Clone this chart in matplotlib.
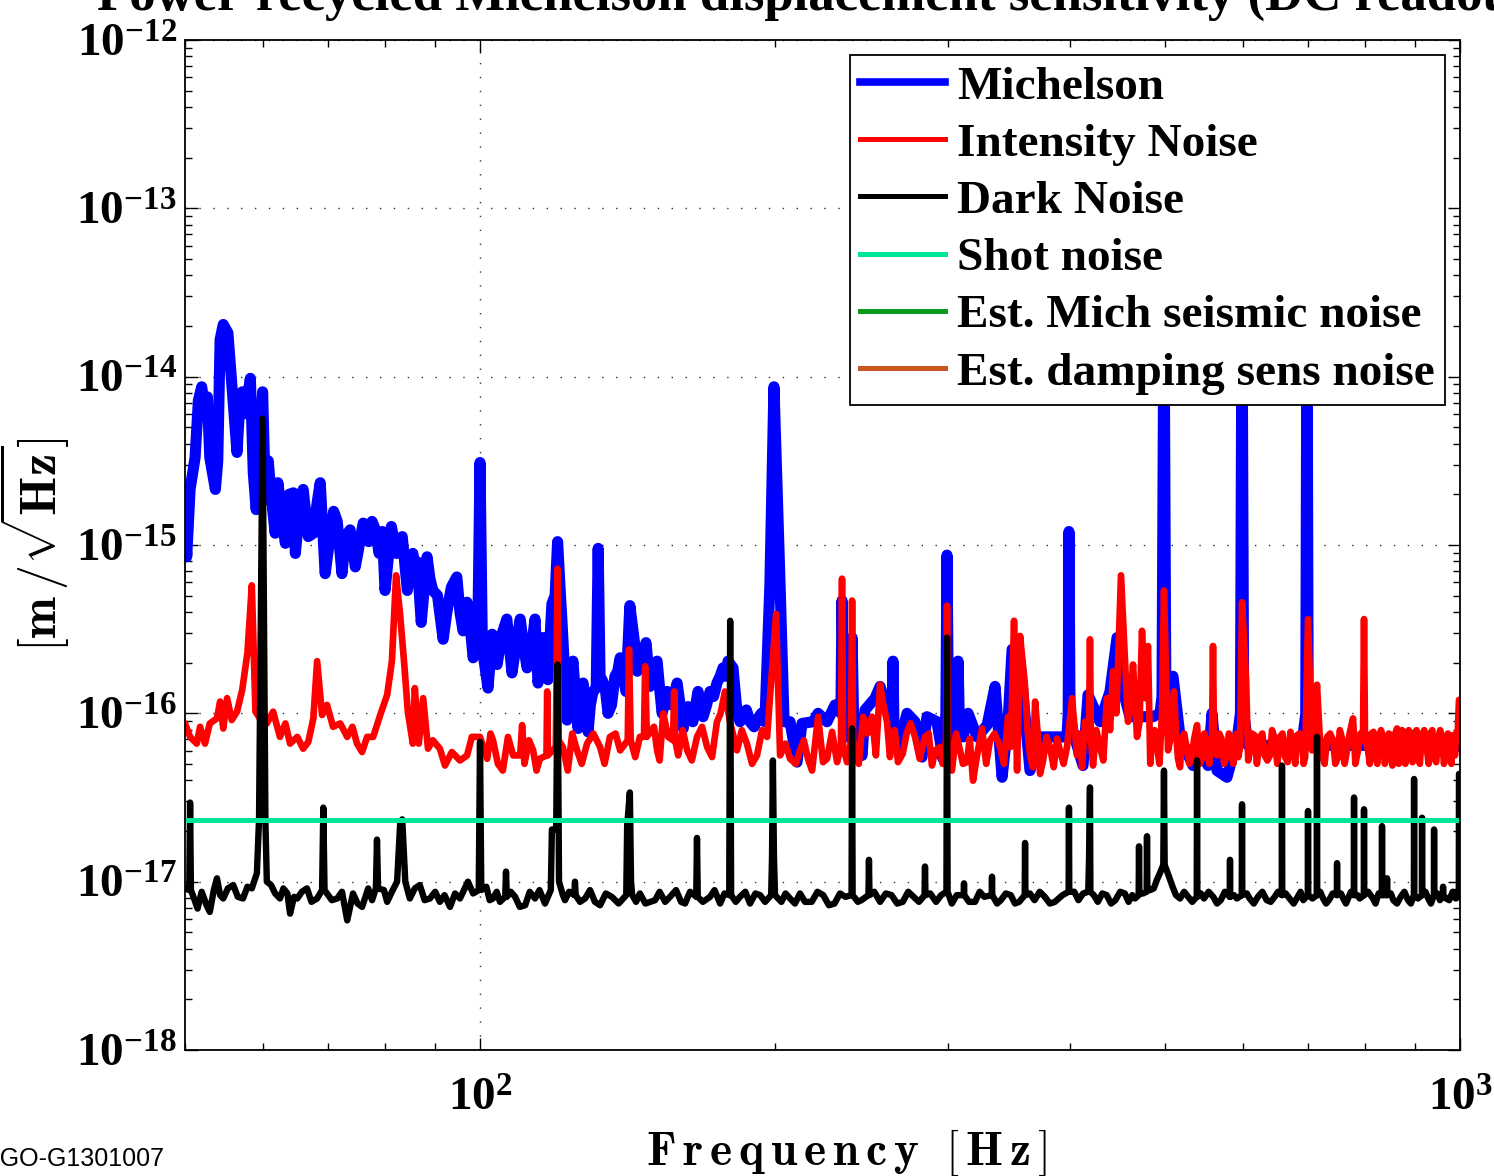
import numpy as np
import matplotlib
matplotlib.use("Agg")
import matplotlib.pyplot as plt
from matplotlib.lines import Line2D
from matplotlib.ticker import FixedLocator, FixedFormatter, LogLocator, NullFormatter

plt.rcParams['font.family'] = ['Liberation Serif', 'DejaVu Serif']
plt.rcParams['mathtext.fontset'] = 'custom'
plt.rcParams['mathtext.rm'] = 'Liberation Serif:bold'
plt.rcParams['mathtext.bf'] = 'Liberation Serif:bold'
plt.rcParams['mathtext.it'] = 'Liberation Serif:italic:bold'

# ---------------- data (frequency in Hz, amplitude as log10 of m/rtHz) ----------------
mich_freq = [
    50.0, 50.2, 50.6, 51.2, 51.6, 52.0, 52.4, 52.7, 53.0, 53.7,
    54.0, 54.3, 54.7, 55.3, 55.8, 56.5, 56.9, 57.2, 57.6, 58.3,
    58.7, 59.1, 60.0, 60.4, 60.8, 61.8, 62.2, 63.3, 64.5, 64.8,
    66.0, 67.6, 68.7, 69.5, 71.5, 72.3, 73.7, 74.6, 76.0, 78.2,
    80.0, 81.2, 83.3, 84.3, 85.4, 87.1, 88.3, 89.5, 91.7, 94.7,
    96.1, 97.0, 98.4, 99.5, 100.0, 100.5, 100.7, 101.9, 102.9, 104.1,
    105.3, 106.5, 107.8, 109.9, 111.7, 113.8, 114.6, 116.0, 117.3, 118.4,
    119.3, 120.0, 120.8, 121.2, 122.7, 124.4, 125.9, 127.4, 128.9, 130.4,
    131.4, 132.0, 132.6, 133.2, 135.1, 137.3, 139.0, 140.9, 142.2, 143.9,
    145.6, 147.7, 149.1, 151.6, 153.4, 155.2, 158.9, 161.2, 163.0, 164.9,
    166.9, 168.9, 171.7, 174.5, 177.0, 179.1, 181.2, 182.9, 185.5, 188.6,
    192.2, 195.3, 197.6, 199.5, 202.4, 204.3, 207.2, 210.6, 213.1, 218.7,
    221.3, 226.0, 230.3, 233.5, 234.1, 235.0, 236.9, 239.2, 239.7, 240.5,
    242.5, 245.4, 247.1, 253.0, 256.0, 260.8, 263.3, 263.9, 264.5, 267.0,
    272.7, 277.9, 282.5, 285.8, 292.6, 296.8, 298.8, 299.6, 300.6, 303.1,
    306.5, 307.5, 308.5, 311.1, 314.8, 321.5, 329.2, 335.4, 341.0, 345.8,
    349.1, 355.7, 364.1, 372.8, 387.9, 397.2, 398.3, 399.0, 400.0, 402.8,
    412.4, 417.3, 429.2, 439.4, 446.7, 455.2, 460.5, 471.5, 486.1, 494.2,
    496.5, 498.8, 501.0, 509.5, 518.0, 534.0, 542.9, 553.2, 558.4, 565.0,
    578.4, 586.6, 592.2, 597.0, 599.2, 601.5, 607.7, 625.1, 644.5, 673.9,
    689.9, 696.0, 698.0, 700.0, 708.0, 742.1, 786.9, 842.5, 898.0, 958.7,
    1000.0]
mich_log = [
    -14.79, -15.07, -14.67, -14.48, -14.14, -14.06, -14.20, -14.12, -14.48, -14.67,
    -14.50, -13.78, -13.69, -13.74, -14.04, -14.45, -14.14, -14.09, -14.22, -14.01,
    -14.57, -14.79, -14.09, -14.73, -14.50, -14.93, -14.63, -14.99, -14.69, -15.05,
    -14.67, -14.93, -14.63, -15.17, -14.86, -15.17, -14.91, -15.13, -14.87, -14.91,
    -15.27, -14.89, -14.95, -15.27, -15.05, -15.46, -15.07, -15.27, -15.56, -15.19,
    -15.51, -15.34, -15.67, -15.50, -14.51, -15.50, -15.64, -15.85, -15.53, -15.71,
    -15.53, -15.44, -15.76, -15.44, -15.73, -15.44, -15.82, -15.55, -15.80, -15.35,
    -15.30, -14.98, -15.30, -15.44, -16.04, -15.69, -16.09, -15.82, -16.11, -15.87,
    -15.85, -15.02, -15.80, -15.80, -16.00, -15.78, -15.67, -15.87, -15.36, -15.60,
    -15.67, -15.58, -15.84, -15.69, -16.00, -15.87, -15.82, -16.09, -15.96, -16.05,
    -15.87, -16.02, -15.87, -15.82, -15.73, -15.69, -15.73, -15.99, -16.02, -16.05,
    -16.03, -16.05, -15.24, -14.06, -15.24, -16.05, -16.05, -16.29, -16.06, -16.05,
    -16.00, -16.05, -15.95, -16.00, -15.33, -16.00, -16.14, -15.90, -15.55, -16.00,
    -16.14, -16.25, -15.98, -15.91, -15.84, -16.00, -16.00, -15.69, -16.10, -16.22,
    -16.00, -16.05, -16.26, -16.02, -16.05, -16.27, -16.00, -15.06, -16.00, -16.14,
    -16.10, -15.69, -16.10, -16.14, -16.00, -16.14, -16.07, -15.84, -16.38, -16.05,
    -15.62, -15.69, -16.34, -16.14, -16.14, -16.14, -16.00, -14.92, -16.00, -16.11,
    -16.31, -15.89, -16.05, -15.87, -15.55, -15.91, -16.02, -16.02, -16.02, -16.00,
    -15.90, -13.50, -15.90, -15.78, -16.14, -16.31, -16.20, -16.31, -16.00, -16.34,
    -16.38, -16.25, -16.16, -16.00, -13.50, -16.00, -16.19, -16.19, -16.19, -16.19,
    -16.19, -16.00, -13.50, -16.00, -16.19, -16.19, -16.19, -16.19, -16.19, -16.19,
    -16.19]
# additional Michelson samples read in the dense noisy 60-200 Hz stretch
mich_extra_freq = [
    61.2, 62.8, 63.8, 65.4, 66.8, 68.2, 70.3, 70.9, 72.9, 75.3,
    77.0, 77.6, 78.9, 79.5, 82.2, 85.9, 86.3, 88.9, 90.5, 92.5,
    93.5, 95.4, 97.6, 103.5, 108.8, 110.8, 112.8, 115.3, 123.5, 126.6,
    129.6, 134.2, 136.2, 138.2, 144.7, 146.6, 150.3, 152.5, 156.9, 160.0,
    162.1, 170.3, 173.1, 175.8, 178.0, 184.2, 187.0, 190.4, 193.7]
mich_extra_log = [
    -14.70, -14.85, -14.70, -14.80, -14.95, -14.75, -14.95, -14.80, -14.95, -15.00,
    -14.98, -14.86, -15.05, -14.92, -15.05, -15.20, -15.10, -15.20, -15.30, -15.40,
    -15.25, -15.40, -15.45, -15.60, -15.60, -15.60, -15.62, -15.70, -15.85, -15.90,
    -15.95, -15.85, -15.95, -15.75, -15.75, -15.65, -15.76, -15.85, -15.95, -15.95,
    -15.98, -15.95, -15.90, -15.78, -15.78, -16.05, -15.98, -16.08, -16.00]

inten_freq = [
    50.0, 50.6, 51.4, 51.8, 52.4, 53.0, 53.9, 54.3, 54.7, 55.2,
    55.8, 56.5, 57.2, 57.9, 58.5, 59.0, 59.6, 60.6, 61.5, 62.5,
    63.3, 64.0, 65.1, 66.0, 66.8, 67.6, 68.2, 69.0, 69.8, 70.8,
    72.0, 73.2, 74.1, 74.9, 75.8, 76.7, 77.8, 79.1, 80.4, 81.3,
    82.1, 82.9, 83.7, 84.4, 85.4, 85.8, 86.6, 87.5, 88.5, 89.5,
    91.0, 92.1, 93.6, 95.4, 97.0, 98.1, 100.0, 101.7, 103.1, 105.5,
    108.1, 109.9, 110.4, 111.0, 113.3, 115.1, 116.9, 117.1, 117.3, 119.5,
    120.0, 120.3, 121.5, 122.9, 125.6, 128.6, 132.6, 135.7, 139.0, 141.5,
    141.9, 142.5, 145.6, 147.0, 147.4, 148.0, 149.1, 151.6, 153.8, 155.6,
    157.4, 157.8, 158.2, 159.3, 162.7, 166.5, 170.5, 174.5, 177.8, 179.9,
    182.9, 187.2, 191.7, 196.3, 199.0, 200.5, 202.4, 207.2, 212.1, 216.1,
    218.2, 221.3, 223.9, 228.7, 231.4, 233.5, 234.1, 234.7, 236.9, 239.1,
    239.7, 240.3, 241.9, 246.0, 251.2, 256.0, 260.2, 263.3, 267.0, 272.7,
    277.9, 284.5, 289.2, 294.7, 298.9, 299.6, 300.3, 303.1, 308.9, 314.0,
    318.5, 325.3, 331.5, 339.4, 345.8, 350.7, 353.2, 355.7, 359.9, 364.1,
    368.5, 372.8, 381.6, 390.7, 397.2, 401.9, 406.6, 414.3, 418.2, 419.2,
    420.2, 422.2, 429.2, 436.3, 442.5, 450.9, 455.2, 458.4, 463.8, 468.2,
    473.7, 477.1, 480.4, 485.0, 490.7, 496.5, 498.8, 503.6, 510.7, 515.5,
    520.0, 526.5, 532.0, 539.1, 545.4, 551.0, 558.4, 559.7, 561.0, 565.0,
    571.0, 578.4, 584.0, 589.4, 594.0, 599.2, 604.9, 610.6, 617.0, 625.1,
    632.0, 639.9, 647.0, 655.2, 663.0, 675.5, 682.0, 689.9, 695.0, 699.7,
    706.3, 714.6, 723.1, 732.0, 742.1, 750.0, 758.0, 766.9, 777.8, 786.9,
    796.2, 798.1, 800.0, 805.7, 812.0, 820.0, 827.0, 834.6, 842.0, 850.0,
    856.0, 862.5, 870.0, 876.0, 883.0, 890.0, 899.8, 906.0, 914.0, 925.5,
    933.0, 941.0, 950.0, 958.7, 967.0, 976.8, 983.0, 988.3, 994.0, 997.6,
    1000.0]
inten_log = [
    -16.06, -16.14, -16.18, -16.08, -16.18, -16.06, -16.03, -15.93, -16.09, -15.91,
    -16.04, -15.99, -15.86, -15.64, -15.24, -15.99, -16.03, -16.06, -15.99, -16.14,
    -16.06, -16.18, -16.14, -16.21, -16.17, -16.03, -15.69, -16.01, -15.95, -16.08,
    -16.06, -16.14, -16.08, -16.18, -16.23, -16.14, -16.14, -16.01, -15.89, -15.69,
    -15.18, -15.42, -15.71, -15.99, -16.18, -15.85, -16.18, -15.91, -16.21, -16.16,
    -16.21, -16.31, -16.23, -16.28, -16.25, -16.14, -16.14, -16.27, -16.16, -16.34,
    -16.25, -16.25, -16.07, -16.30, -16.22, -16.27, -16.25, -15.87, -16.25, -16.20,
    -15.14, -16.16, -16.20, -16.34, -16.22, -16.18, -16.20, -16.14, -16.22, -16.16,
    -15.62, -16.16, -16.14, -16.14, -15.72, -16.14, -16.11, -16.22, -16.00, -16.14,
    -16.16, -15.87, -16.16, -16.25, -16.22, -16.14, -16.20, -16.05, -15.87, -16.05,
    -16.22, -16.18, -16.25, -16.14, -15.67, -15.41, -16.25, -16.27, -16.22, -16.27,
    -16.34, -16.02, -16.29, -16.11, -16.29, -16.20, -15.20, -16.20, -16.29, -16.16,
    -15.33, -16.16, -16.22, -16.02, -16.02, -15.83, -16.05, -16.14, -16.29, -16.11,
    -16.14, -16.14, -16.31, -16.20, -16.16, -15.36, -16.16, -16.34, -16.22, -16.29,
    -16.40, -16.09, -16.16, -16.20, -16.02, -15.45, -16.34, -15.54, -15.84, -16.25,
    -15.93, -16.36, -16.20, -16.22, -16.20, -15.91, -16.25, -16.05, -16.16, -15.56,
    -16.16, -16.31, -16.20, -15.91, -15.75, -15.18, -15.69, -16.05, -15.71, -16.14,
    -15.51, -15.91, -15.60, -16.14, -16.20, -16.00, -15.27, -16.22, -15.87, -16.27,
    -16.16, -16.22, -16.28, -16.07, -16.27, -16.17, -16.16, -15.60, -16.16, -16.25,
    -16.15, -16.25, -16.17, -16.16, -16.26, -15.34, -15.80, -16.22, -16.13, -16.14,
    -16.25, -16.25, -16.15, -16.14, -16.26, -16.22, -16.13, -16.16, -16.26, -15.44,
    -16.22, -15.83, -16.25, -16.14, -16.16, -16.27, -16.15, -16.22, -16.03, -16.22,
    -16.16, -15.44, -16.16, -16.22, -16.12, -16.26, -16.14, -16.14, -16.26, -16.13,
    -16.25, -16.09, -16.24, -16.12, -16.22, -16.14, -16.11, -16.25, -16.13, -16.22,
    -16.12, -16.26, -16.15, -16.14, -16.26, -16.22, -16.13, -16.25, -16.16, -15.92,
    -15.92]
# additional intensity-noise samples read in its dense noisy band
inten_extra_freq = [
    102.5, 104.3, 106.8, 112.2, 114.2, 124.2, 127.0, 130.5, 134.0, 137.5,
    144.0, 150.5, 152.5, 161.0, 164.5, 168.5, 172.5, 176.0, 185.0, 189.5,
    194.0, 205.0, 210.0, 214.0, 226.0, 243.5, 248.5, 253.5, 258.0, 262.0,
    265.0, 270.0, 275.0, 281.0, 287.0, 291.5, 296.5, 306.0, 311.0, 316.0,
    321.5, 328.5, 335.0, 342.5, 348.0, 362.0, 366.5, 370.5, 375.5, 378.5,
    385.0, 388.0, 394.0, 409.0, 411.5, 425.5, 432.5, 439.5, 446.0, 461.0,
    471.0, 483.0, 488.0, 493.5, 506.5, 513.0, 518.0, 523.0, 529.5, 535.5,
    542.5, 548.5, 555.0, 568.0, 574.5, 581.0, 587.0, 591.5, 596.5, 608.0,
    613.5, 620.5, 628.5, 636.0, 643.0, 651.0, 659.0, 667.0, 671.5, 679.0,
    686.0, 692.5, 709.5, 719.0, 727.5, 737.0, 746.0, 754.0, 762.5, 771.5,
    782.0, 791.5, 809.0, 816.0, 823.5, 830.5, 838.0, 846.0, 853.0, 859.0,
    866.0, 873.0, 879.5, 886.5, 894.5, 903.0, 910.0, 919.5, 929.0, 937.0,
    945.5, 954.5, 963.0, 972.0, 980.0, 991.0]
inten_extra_log = [
    -16.12, -16.30, -16.14, -16.16, -16.34, -16.12, -16.30, -16.12, -16.30, -16.12,
    -16.26, -16.08, -16.28, -16.10, -16.28, -16.08, -16.26, -16.00, -16.10, -16.30,
    -16.10, -16.18, -16.30, -16.16, -16.27, -16.30, -16.12, -16.25, -15.95, -16.26,
    -16.10, -16.24, -16.06, -16.27, -16.12, -16.22, -16.30, -16.12, -16.30, -16.15,
    -16.25, -16.30, -16.12, -16.30, -16.20, -16.10, -16.32, -16.10, -16.28, -16.14,
    -16.32, -16.15, -16.30, -16.12, -16.32, -16.10, -16.28, -16.10, -16.00, -15.95,
    -16.05, -16.30, -16.10, -16.30, -16.15, -16.10, -16.32, -16.12, -16.30, -16.15,
    -16.30, -16.12, -16.30, -16.12, -16.30, -16.12, -16.30, -16.12, -16.20, -16.28,
    -16.12, -16.30, -16.12, -16.28, -16.10, -16.30, -16.12, -16.29, -16.11, -16.30,
    -16.12, -16.30, -16.10, -16.12, -16.30, -16.12, -16.30, -16.10, -16.30, -16.12,
    -16.30, -16.12, -16.30, -16.11, -16.30, -16.10, -16.30, -16.12, -16.31, -16.12,
    -16.30, -16.10, -16.30, -16.10, -16.29, -16.10, -16.30, -16.10, -16.30, -16.10,
    -16.29, -16.10, -16.30, -16.12, -16.30, -16.12]

# dark noise: floor samples and line features (each line: foot, top, foot)
dark_floor_freq = [
    50.0, 51.0, 51.5, 52.0, 52.6, 53.0, 53.5, 53.9, 54.3, 54.7,
    55.3, 56.0, 56.6, 57.3, 57.9, 58.5, 61.2, 61.8, 62.5, 63.0,
    63.6, 64.0, 64.6, 65.1, 65.8, 66.6, 67.3, 68.2, 69.8, 70.6,
    71.5, 72.3, 73.2, 74.2, 75.0, 75.8, 76.9, 77.6, 79.1, 79.8,
    80.4, 81.3, 84.8, 85.8, 86.8, 87.8, 88.9, 90.0, 91.0, 92.0,
    93.2, 94.3, 95.4, 96.3, 97.2, 98.4, 101.5, 102.3, 103.1, 104.0,
    104.8, 107.5, 108.6, 109.8, 111.2, 112.4, 113.8, 115.0, 116.5, 117.5,
    121.5, 122.1, 123.3, 126.5, 128.0, 129.5, 131.0, 132.6, 134.4, 136.3,
    138.5, 140.2, 144.3, 145.6, 147.5, 150.9, 152.5, 154.5, 156.3, 158.5,
    160.4, 161.9, 163.8, 168.8, 171.7, 173.5, 175.8, 177.6, 182.4, 184.2,
    186.5, 188.6, 191.0, 193.1, 195.4, 203.0, 205.0, 207.2, 209.6, 212.1,
    214.6, 218.0, 221.0, 224.0, 227.0, 230.0, 233.0, 236.0, 243.0, 245.0,
    252.5, 256.0, 259.5, 263.0, 266.5, 270.0, 273.5, 277.0, 280.5, 288.0,
    292.0, 295.5, 303.0, 306.5, 315.5, 320.0, 323.5, 327.0, 337.0, 340.0,
    344.0, 348.0, 351.5, 355.0, 364.0, 368.0, 372.5, 377.0, 381.5, 386.0,
    393.0, 404.0, 408.0, 412.5, 423.0, 427.0, 431.5, 436.0, 440.5, 445.0,
    450.0, 455.0, 459.0, 463.0, 466.0, 475.0, 483.0, 487.0, 490.5, 509.0,
    513.0, 518.0, 523.0, 528.0, 533.0, 544.0, 548.0, 554.0, 560.0, 565.0,
    570.0, 575.5, 588.0, 592.0, 606.0, 610.0, 616.0, 622.0, 628.5, 635.0,
    641.0, 647.0, 652.0, 664.0, 670.0, 676.5, 683.0, 687.5, 692.0, 707.0,
    720.0, 725.0, 730.0, 735.0, 741.5, 756.0, 760.0, 765.0, 770.0, 774.0,
    786.0, 790.0, 806.0, 815.0, 820.0, 826.0, 850.0, 855.0, 862.5, 870.0,
    877.5, 885.0, 891.0, 906.0, 922.0, 928.0, 934.0, 948.0, 954.0, 968.0,
    975.0, 983.0, 990.0]
dark_floor_log = [
    -17.04, -17.09, -17.16, -17.06, -17.14, -17.18, -17.05, -16.98, -17.08, -17.10,
    -17.04, -17.02, -17.09, -17.10, -17.03, -17.04, -17.02, -17.07, -17.10, -17.04,
    -17.07, -17.19, -17.09, -17.10, -17.06, -17.04, -17.12, -17.10, -17.04, -17.11,
    -17.10, -17.06, -17.23, -17.07, -17.13, -17.15, -17.04, -17.11, -17.10, -17.05,
    -17.12, -17.06, -17.10, -17.04, -17.02, -17.11, -17.10, -17.06, -17.12, -17.08,
    -17.15, -17.07, -17.10, -17.05, -17.00, -17.07, -17.03, -17.11, -17.10, -17.06,
    -17.12, -17.06, -17.09, -17.15, -17.14, -17.06, -17.10, -17.05, -17.13, -17.09,
    -17.08, -17.11, -17.06, -17.12, -17.10, -17.05, -17.12, -17.14, -17.07, -17.09,
    -17.13, -17.07, -17.12, -17.07, -17.13, -17.11, -17.06, -17.12, -17.09, -17.05,
    -17.12, -17.13, -17.06, -17.12, -17.09, -17.05, -17.13, -17.07, -17.12, -17.09,
    -17.06, -17.13, -17.07, -17.08, -17.12, -17.12, -17.07, -17.10, -17.13, -17.07,
    -17.12, -17.12, -17.06, -17.08, -17.14, -17.13, -17.07, -17.09, -17.12, -17.11,
    -17.06, -17.12, -17.07, -17.08, -17.13, -17.12, -17.06, -17.09, -17.12, -17.07,
    -17.12, -17.08, -17.13, -17.08, -17.12, -17.12, -17.06, -17.09, -17.13, -17.11,
    -17.07, -17.08, -17.13, -17.12, -17.07, -17.11, -17.06, -17.09, -17.13, -17.12,
    -17.08, -17.06, -17.11, -17.07, -17.08, -17.12, -17.07, -17.08, -17.13, -17.11,
    -17.06, -17.07, -17.12, -17.08, -17.10, -17.07, -17.05, -17.04, -16.99, -17.03,
    -17.08, -17.10, -17.06, -17.09, -17.12, -17.07, -17.10, -17.06, -17.09, -17.13,
    -17.11, -17.06, -17.08, -17.10, -17.07, -17.10, -17.13, -17.09, -17.06, -17.11,
    -17.12, -17.09, -17.06, -17.07, -17.10, -17.13, -17.09, -17.06, -17.11, -17.10,
    -17.06, -17.10, -17.13, -17.11, -17.07, -17.07, -17.10, -17.13, -17.09, -17.06,
    -17.08, -17.10, -17.06, -17.10, -17.13, -17.07, -17.07, -17.11, -17.13, -17.09,
    -17.06, -17.11, -17.13, -17.10, -17.06, -17.10, -17.13, -17.07, -17.11, -17.10,
    -17.11, -17.06, -17.10]
dark_line_freq = [
    50.5, 50.6, 50.7, 59.2, 59.5, 60.0, 60.4, 60.6, 69.0, 69.2,
    69.4, 78.3, 78.5, 78.7, 82.3, 82.9, 83.3, 83.9, 99.7, 100.0,
    100.3, 106.1, 106.3, 106.5, 118.1, 118.4, 119.6, 120.0, 120.4, 124.8,
    125.0, 125.2, 141.0, 141.3, 142.2, 142.6, 143.0, 166.2, 166.5, 166.8,
    179.6, 180.0, 180.4, 198.2, 198.6, 199.0, 199.5, 200.0, 239.4, 239.7,
    240.0, 249.1, 249.4, 249.7, 284.2, 284.5, 284.8, 299.2, 299.6, 300.0,
    311.6, 311.8, 312.0, 332.8, 333.0, 333.2, 359.6, 359.9, 360.2, 398.7,
    399.0, 399.3, 417.5, 418.3, 419.2, 419.6, 470.0, 470.4, 470.8, 478.9,
    479.3, 479.7, 494.0, 498.0, 498.8, 499.6, 504.0, 538.7, 539.1, 539.5,
    582.2, 582.5, 582.8, 598.8, 599.2, 599.6, 657.8, 658.2, 658.6, 699.3,
    699.7, 700.1, 714.2, 714.6, 715.0, 748.7, 749.1, 749.5, 779.2, 779.6,
    780.0, 797.7, 798.1, 798.5, 832.2, 832.6, 833.0, 842.1, 842.5, 842.9,
    897.3, 897.7, 898.1, 914.3, 914.7, 915.1, 940.5, 940.9, 941.3, 960.6,
    961.0, 961.4, 997.2, 997.6, 1000.0]
dark_line_log = [
    -17.05, -16.53, -17.05, -16.95, -16.63, -14.25, -16.65, -17.00, -17.05, -16.56,
    -17.05, -17.04, -16.75, -17.04, -17.00, -16.65, -16.63, -17.00, -17.05, -16.17,
    -17.05, -17.09, -16.94, -17.09, -17.05, -16.69, -16.69, -15.71, -17.00, -17.08,
    -17.00, -17.08, -17.08, -16.67, -16.47, -17.00, -17.08, -17.09, -16.74, -17.09,
    -17.08, -15.45, -17.08, -17.08, -16.85, -16.28, -16.85, -17.08, -17.08, -16.09,
    -17.08, -17.08, -16.87, -17.08, -17.08, -16.91, -17.08, -17.06, -15.55, -17.06,
    -17.08, -17.01, -17.08, -17.08, -16.97, -17.08, -17.08, -16.77, -17.08, -17.06,
    -16.56, -17.06, -17.06, -16.86, -16.44, -17.06, -17.08, -16.79, -17.07, -17.06,
    -16.73, -17.05, -16.95, -16.90, -16.34, -16.90, -16.96, -17.09, -16.28, -17.09,
    -17.09, -16.87, -17.09, -17.08, -16.54, -17.08, -17.08, -16.31, -17.08, -17.08,
    -16.58, -17.08, -17.08, -16.14, -17.08, -17.08, -16.89, -17.08, -17.08, -16.50,
    -17.08, -17.08, -16.57, -17.08, -17.08, -16.67, -17.08, -17.08, -16.98, -17.08,
    -17.08, -16.39, -17.08, -17.08, -16.62, -17.08, -17.08, -16.69, -17.08, -17.08,
    -17.03, -17.08, -17.09, -16.36, -16.36]

shot_freq = [50.0, 1000.0]
shot_val = [2.32e-17, 2.32e-17]

series_labels = ['Michelson', 'Intensity Noise', 'Dark Noise', 'Shot noise',
                 'Est. Mich seismic noise', 'Est. damping sens noise']
series_colors = ['#0000FF', '#FF0000', '#000000', '#00E699', '#0A9A1E', '#CC5522']

x_tick_vals = [100, 1000]
x_tick_exp = [2, 3]
y_tick_exp = [-18, -17, -16, -15, -14, -13, -12]

title_text = 'Power-recycled Michelson displacement sensitivity (DC readout)'
doc_id = 'LIGO-G1301007'

assert len(mich_freq) == len(mich_log)
assert len(mich_extra_freq) == len(mich_extra_log)
assert len(inten_freq) == len(inten_log)
assert len(inten_extra_freq) == len(inten_extra_log)
assert len(dark_floor_freq) == len(dark_floor_log)
assert len(dark_line_freq) == len(dark_line_log)


def merged(fa, la, fb, lb, clear=None):
    """Combine two sets of read samples in frequency order.
    Samples of the second set lying on a feature of `clear` are left out."""
    fb = np.asarray(fb, float)
    lb = np.asarray(lb, float)
    if clear is not None:
        c = np.log10(np.asarray(clear, float))
        d = np.abs(np.log10(fb)[:, None] - c[None, :]).min(axis=1)
        keep = d > 0.0025
        fb, lb = fb[keep], lb[keep]
    f = np.concatenate([np.asarray(fa, float), fb])
    l = np.concatenate([np.asarray(la, float), lb])
    o = np.argsort(f, kind='stable')
    return f[o], 10.0 ** l[o]


mf, mv = merged(mich_freq, mich_log, mich_extra_freq, mich_extra_log)
inf_, inv = merged(inten_freq, inten_log, inten_extra_freq, inten_extra_log)
df, dv = merged(dark_line_freq, dark_line_log, dark_floor_freq, dark_floor_log,
                clear=dark_line_freq)

# ---------------- figure ----------------
W, H = 1494, 1176
fig = plt.figure(figsize=(W / 100, H / 100), dpi=100)
ax = fig.add_axes([185 / W, 1 - 1050 / H, (1460 - 185) / W, (1050 - 40) / H])

kw = dict(solid_joinstyle='round', solid_capstyle='round')
ax.plot(mf, mv, color=series_colors[0], lw=8.0, **kw)
ax.plot(inf_, inv, color=series_colors[1], lw=4.8, **kw)
ax.plot(df, dv, color=series_colors[2], lw=4.6, **kw)
ax.plot(shot_freq, shot_val, color=series_colors[3], lw=3.6, solid_capstyle='butt')

ax.set_xscale('log')
ax.set_yscale('log')
ax.set_xlim(50, 1000)
ax.set_ylim(1e-18, 1e-12)

ax.xaxis.set_major_locator(FixedLocator(x_tick_vals))
ax.xaxis.set_major_formatter(FixedFormatter([r'$\mathbf{10^{%d}}$' % e for e in x_tick_exp]))
ax.xaxis.set_minor_locator(LogLocator(base=10, subs=np.arange(2, 10)))
ax.xaxis.set_minor_formatter(NullFormatter())
ax.yaxis.set_major_locator(FixedLocator([10.0 ** e for e in y_tick_exp]))
ax.yaxis.set_major_formatter(FixedFormatter([r'$\mathbf{10^{%d}}$' % e for e in y_tick_exp]))
ax.yaxis.set_minor_locator(LogLocator(base=10, subs=np.arange(2, 10), numticks=20))
ax.yaxis.set_minor_formatter(NullFormatter())

ax.tick_params(which='both', direction='in', top=True, right=True, width=1.0)
ax.tick_params(which='major', length=9, labelsize=34)
ax.tick_params(which='minor', length=5)
ax.tick_params(axis='x', which='major', pad=20)
ax.tick_params(axis='y', which='major', pad=6)

for s in ax.spines.values():
    s.set_linewidth(1.3)

ax.grid(True, which='major', linestyle=(0, (1, 9)), color='#333333', linewidth=1.0)
ax.grid(False, which='minor')
ax.set_axisbelow(True)

ax.set_xlabel(r'$\mathbf{F\,r\,e\,q\,u\,e\,n\,c\,y\ \ [\,H\,z\,]}$', fontsize=34,
              math_fontfamily='cm')
ax.xaxis.set_label_coords(0.519, -0.077)
ax.set_ylabel(r'$[\mathbf{m}\,/\sqrt{\mathbf{Hz}}]$', fontsize=36, math_fontfamily='cm',
              labelpad=3)

handles = [
    Line2D([], [], color=series_colors[0], lw=5.5),
    Line2D([], [], color=series_colors[1], lw=3.6),
    Line2D([], [], color=series_colors[2], lw=3.6),
    Line2D([], [], color=series_colors[3], lw=3.6),
    Line2D([], [], color=series_colors[4], lw=3.6),
    Line2D([], [], color=series_colors[5], lw=3.6),
]
leg = ax.legend(handles, series_labels, loc='upper right',
                prop={'family': 'Liberation Serif', 'weight': 'bold', 'size': 34},
                frameon=True, fancybox=False, framealpha=1.0, edgecolor='black',
                handlelength=1.8, handletextpad=0.25, labelspacing=0.3,
                borderpad=0.22, borderaxespad=0.32)
leg.get_frame().set_linewidth(1.3)

fig.text(822 / W, 1 - 10 / H, title_text, ha='center', va='baseline',
         fontsize=38, fontweight='bold', family='Liberation Serif')
fig.text(-21 / W, 1 - 1166 / H, doc_id, ha='left', va='baseline',
         fontsize=18, family='Liberation Sans')

fig.savefig('out.png', dpi=100)
